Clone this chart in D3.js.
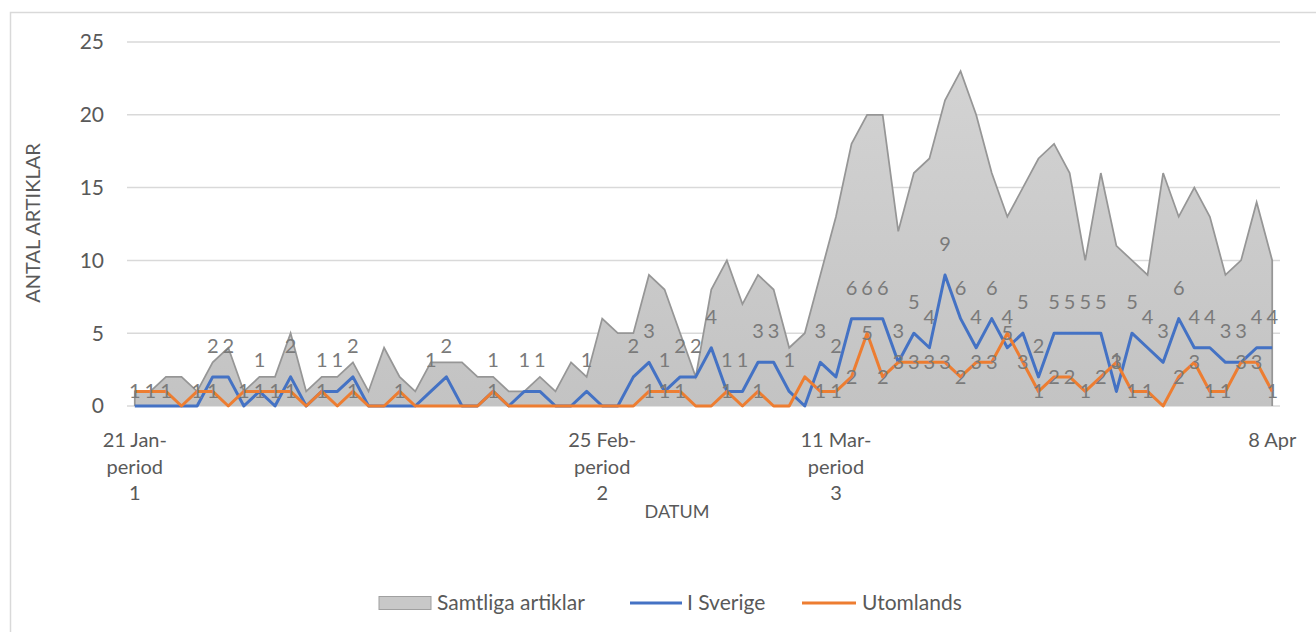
<!DOCTYPE html>
<html>
<head>
<meta charset="utf-8">
<script src="https://cdn.jsdelivr.net/npm/d3@7"></script>
<style>
  body { margin: 0; background: #fff; }
  text { font-family: Lato, "Open Sans", sans-serif; fill: #595959; }
</style>
</head>
<body>
<script>
// Series values, one per category (74 categories, 21 Jan - 8 Apr)
const samtliga = [1,1,2,2,1,3,4,1,2,2,5,1,2,2,3,
                  1,4,2,1,3,3,3,2,2,1,1,2,1,3,2,
                  6,5,5,9,8,5,2,8,10,7,9,8,4,5,9,
                  13,18,20,20,12,16,17,21,23,20,16,13,15,17,18,
                  16,10,16,11,10,9,16,13,15,13,9,10,14,10];
const iSverige = [0,0,0,0,0,2,2,0,1,0,2,0,1,1,2,
                  0,0,0,0,1,2,0,0,1,0,1,1,0,0,1,
                  0,0,2,3,1,2,2,4,1,1,3,3,1,0,3,
                  2,6,6,6,3,5,4,9,6,4,6,4,5,2,5,
                  5,5,5,1,5,4,3,6,4,4,3,3,4,4];
const utomlands = [1,1,1,0,1,1,0,1,1,1,1,0,1,0,1,
                   0,0,1,0,0,0,0,0,1,0,0,0,0,0,0,
                   0,0,0,1,1,1,0,0,1,0,1,0,0,2,1,
                   1,2,5,2,3,3,3,3,2,3,3,5,3,1,2,
                   2,1,2,3,1,1,0,2,3,1,1,3,3,1];
// labels Excel did not show
const hiddenUtomlandsLabels = [43];

// category axis labels (only these categories are labelled)
const tickIndex = [0, 30, 45, 73];
const tickText = [["21 Jan-", "period", "1"], ["25 Feb-", "period", "2"], ["11 Mar-", "period", "3"], ["8 Apr"]];
const yTicks = [0, 5, 10, 15, 20, 25];

const seriesNames = ["Samtliga artiklar", "I Sverige", "Utomlands"];

let width = 1316, height = 632;
let margin = { top: 42, bottom: 226, left: 127, right: 36 };

let svg = d3.select('body')
    .append('svg')
    .attr('width', width)
    .attr('height', height);

// chart border
svg.append('rect')
    .attr('x', 10.5).attr('y', 12.5)
    .attr('width', 1330).attr('height', 640)
    .attr('fill', 'none')
    .attr('stroke', '#d9d9d9')
    .attr('stroke-width', 1.5);

const n = samtliga.length;
const xScale = d3.scalePoint()
    .domain(d3.range(n))
    .range([margin.left, width - margin.right])
    .padding(0.5);

const yScale = d3.scaleLinear()
    .domain([0, 25])
    .range([height - margin.bottom, margin.top]);

// gridlines
svg.append('g')
    .selectAll('line')
    .data(yTicks)
    .enter()
    .append('line')
    .attr('x1', margin.left)
    .attr('x2', width - margin.right)
    .attr('y1', d => yScale(d))
    .attr('y2', d => yScale(d))
    .attr('stroke', '#d9d9d9')
    .attr('stroke-width', 1.5);

// y axis labels
svg.append('g')
    .selectAll('text')
    .data(yTicks)
    .enter()
    .append('text')
    .attr('x', 104)
    .attr('y', d => yScale(d))
    .attr('dy', '0.35em')
    .attr('text-anchor', 'end')
    .style('font-size', '21px')
    .text(d => d);

// gradient for the area
const grad = svg.append('defs').append('linearGradient')
    .attr('id', 'grayGrad')
    .attr('x1', 0).attr('x2', 0).attr('y1', 0).attr('y2', 1);
grad.append('stop').attr('offset', '0%').attr('stop-color', '#d3d3d3');
grad.append('stop').attr('offset', '100%').attr('stop-color', '#c3c3c3');

// area: Samtliga artiklar
const area = d3.area()
    .x((d, i) => xScale(i))
    .y0(yScale(0))
    .y1(d => yScale(d));

svg.append('path')
    .datum(samtliga)
    .attr('d', area)
    .attr('fill', 'url(#grayGrad)');

const outline = [[0, 0]].concat(samtliga.map((d, i) => [i, d]), [[n - 1, 0]]);
svg.append('path')
    .datum(outline)
    .attr('d', d3.line().x(d => xScale(d[0])).y(d => yScale(d[1])))
    .attr('fill', 'none')
    .attr('stroke', '#969696')
    .attr('stroke-width', 1.75);

// lines
const line = d3.line()
    .x((d, i) => xScale(i))
    .y(d => yScale(d));

svg.append('path')
    .datum(iSverige)
    .attr('d', line)
    .attr('fill', 'none')
    .attr('stroke', '#4472c4')
    .attr('stroke-width', 3)
    .attr('stroke-linejoin', 'round');

svg.append('path')
    .datum(utomlands)
    .attr('d', line)
    .attr('fill', 'none')
    .attr('stroke', '#ed7d31')
    .attr('stroke-width', 3)
    .attr('stroke-linejoin', 'round');

// data labels
svg.append('g')
    .selectAll('text')
    .data(iSverige.map((d, i) => ({ v: d, i: i })).filter(d => d.v > 0))
    .enter()
    .append('text')
    .attr('x', d => xScale(d.i))
    .attr('y', d => yScale(d.v) - 31)
    .attr('dy', '0.35em')
    .attr('text-anchor', 'middle')
    .style('font-size', '20px')
    .style('fill', '#7a7a7a')
    .text(d => d.v);

svg.append('g')
    .selectAll('text')
    .data(utomlands.map((d, i) => ({ v: d, i: i }))
        .filter(d => d.v > 0 && hiddenUtomlandsLabels.indexOf(d.i) < 0))
    .enter()
    .append('text')
    .attr('x', d => xScale(d.i))
    .attr('y', d => yScale(d.v))
    .attr('dy', '0.35em')
    .attr('text-anchor', 'middle')
    .style('font-size', '20px')
    .style('fill', '#7a7a7a')
    .text(d => d.v);

// x axis labels
let xLabels = svg.append('g')
    .selectAll('text')
    .data(tickIndex)
    .enter()
    .append('text')
    .attr('x', d => xScale(d))
    .attr('y', 440)
    .attr('text-anchor', 'middle')
    .style('font-size', '20px');

xLabels.selectAll('tspan')
    .data((d, k) => tickText[k])
    .enter()
    .append('tspan')
    .attr('x', function() { return this.parentNode.getAttribute('x'); })
    .attr('dy', (d, j) => j === 0 ? '0.35em' : '26.5px')
    .text(d => d);

// axis titles
svg.append('text')
    .attr('x', 677)
    .attr('y', 512)
    .attr('dy', '0.35em')
    .attr('text-anchor', 'middle')
    .style('font-size', '18px')
    .text('DATUM');

svg.append('text')
    .attr('transform', 'translate(33,223) rotate(-90)')
    .attr('dy', '0.35em')
    .attr('text-anchor', 'middle')
    .style('font-size', '20px')
    .text('ANTAL ARTIKLAR');

// legend
let legend = svg.append('g').attr('transform', 'translate(0,603)');
legend.append('rect')
    .attr('x', 379).attr('y', -6.5)
    .attr('width', 52).attr('height', 13)
    .attr('fill', '#c8c8c8')
    .attr('stroke', '#a0a0a0');
legend.append('text').attr('x', 437).attr('dy', '0.35em')
    .style('font-size', '21px').text(seriesNames[0]);

legend.append('line')
    .attr('x1', 630).attr('x2', 682)
    .attr('stroke', '#4472c4').attr('stroke-width', 3);
legend.append('text').attr('x', 687).attr('dy', '0.35em')
    .style('font-size', '21px').text(seriesNames[1]);

legend.append('line')
    .attr('x1', 802).attr('x2', 856)
    .attr('stroke', '#ed7d31').attr('stroke-width', 3);
legend.append('text').attr('x', 862).attr('dy', '0.35em')
    .style('font-size', '21px').text(seriesNames[2]);
</script>
</body>
</html>
